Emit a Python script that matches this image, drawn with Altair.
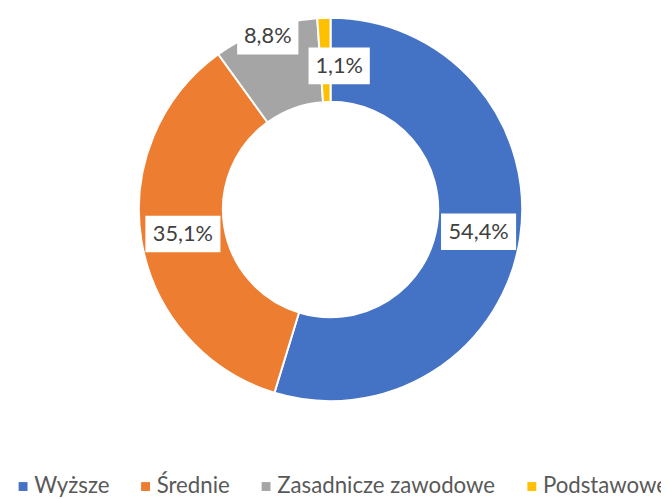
import altair as alt
import pandas as pd

# ---- data ----
categories = ["Wyższe", "Średnie", "Zasadnicze zawodowe", "Podstawowe"]
shares = [54.4, 35.1, 8.8, 1.1]
labels = ["54,4%", "35,1%", "8,8%", "1,1%"]
colors = ["#4472C4", "#ED7D31", "#A5A5A5", "#FFC000"]

# ---- label placement tweaks (best-fit style shifts of the small labels) ----
label_radial_extra = [0, 0, 35, 0]
label_dx = [0, 0, 0, 14]
label_dy = [0, 0, 0, 6]

W, H = 661, 491
CX, CY = 326.5, 201
R_OUT, R_IN = 194, 109
R_LAB = (R_OUT + R_IN) / 2

df = pd.DataFrame({
    "category": categories,
    "value": shares,
    "label": labels,
    "idx": list(range(len(categories))),
    "rx": label_radial_extra,
    "ldx": label_dx,
    "ldy": label_dy,
})

color_scale = alt.Scale(domain=categories, range=colors)
base = alt.Chart(df)

arcs = base.mark_arc(
    innerRadius=R_IN, outerRadius=R_OUT, stroke="white", strokeWidth=2
).encode(
    theta=alt.Theta("value:Q", stack=True),
    order=alt.Order("idx:Q"),
    color=alt.Color(
        "category:N",
        scale=color_scale,
        sort=categories,
        legend=alt.Legend(
            title=None,
            orient="none",
            legendX=4,
            legendY=470,
            direction="horizontal",
            symbolType="square",
            symbolSize=81,
            symbolStrokeWidth=0,
            labelFont="Lato",
            labelFontSize=22.5,
            labelColor="#595959",
            labelLimit=0,
            labelOffset=0,
            columnPadding=25,
            padding=0,
        ),
    ),
    x=alt.value(CX),
    y=alt.value(CY),
)

lab = (
    base.transform_joinaggregate(total="sum(value)")
    .transform_window(cum="sum(value)", sort=[alt.SortField("idx")], frame=[None, 0])
    .transform_calculate(
        mid="(datum.cum - datum.value / 2) / datum.total * 2 * PI",
        rr=f"{R_LAB} + datum.rx",
        px="datum.rr * sin(datum.mid) + datum.ldx",
        py="datum.rr * cos(datum.mid) - datum.ldy",
        hw="length(datum.label) * 7 + 3",
        x1="datum.px - datum.hw",
        x2="datum.px + datum.hw",
        y1="datum.py - 18.5",
        y2="datum.py + 18.5",
    )
)

xs = alt.Scale(domain=[-CX, W - CX], nice=False, zero=False)
ys = alt.Scale(domain=[CY - H, CY], nice=False, zero=False)

boxes = lab.mark_rect(fill="white").encode(
    x=alt.X("x1:Q", scale=xs, axis=None),
    x2="x2:Q",
    y=alt.Y("y1:Q", scale=ys, axis=None),
    y2="y2:Q",
)

texts = lab.mark_text(font="Lato", fontSize=22, color="#404040", baseline="middle").encode(
    x=alt.X("px:Q", scale=xs, axis=None),
    y=alt.Y("py:Q", scale=ys, axis=None),
    text="label:N",
)

chart = (
    alt.layer(arcs, boxes, texts)
    .properties(width=W, height=H, padding=0, autosize=alt.AutoSizeParams(type="none"))
    .configure_view(stroke=None)
)

chart.save("out.html", embed_options={"renderer": "svg", "actions": False})
